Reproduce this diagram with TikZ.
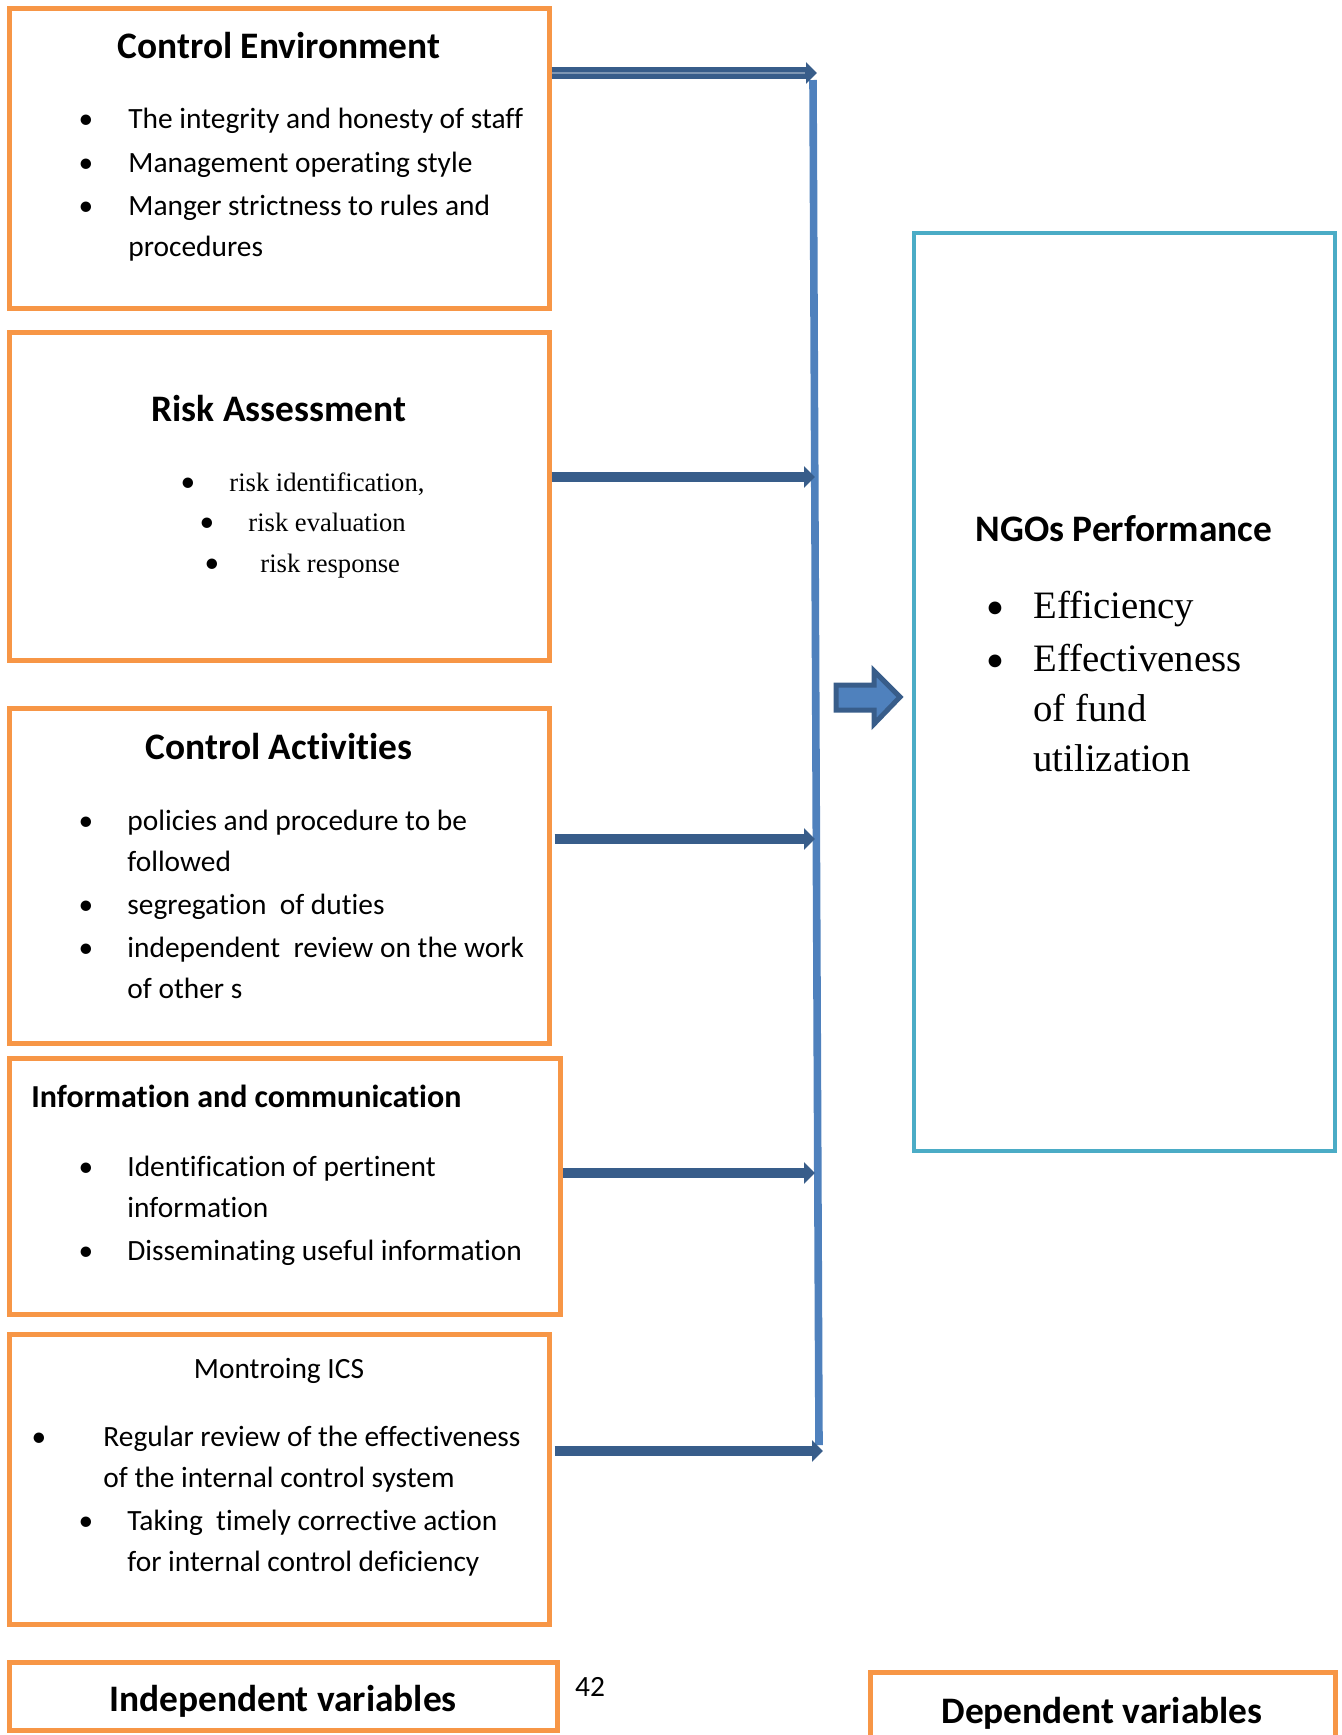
\documentclass[tikz,border=0pt]{standalone}
\usepackage{fontspec}
\setmainfont{Carlito}[RawFeature={-liga;-clig;-calt;-dlig}]
\newfontfamily\timesfont{Liberation Serif}
\usetikzlibrary{arrows.meta,positioning}
\definecolor{varorange}{HTML}{F79646}
\definecolor{perfcyan}{HTML}{4BACC6}
\definecolor{busblue}{HTML}{4F81BD}
\definecolor{feedblue}{HTML}{385D8A}
\tikzset{
  varbox/.style={draw=varorange, line width=2.5pt, inner sep=0pt},
  perfbox/.style={draw=perfcyan, line width=2.2pt, inner sep=0pt},
  bus/.style={draw=busblue, line width=3.8pt},
  feed/.style={draw=feedblue, line width=5pt, -{Triangle[length=5.5pt,width=10.5pt]}},
  boxtitle/.style={font=\fontsize{18.7}{22}\selectfont\bfseries, anchor=base, inner sep=0pt},
  item/.style={font=\fontsize{14.7}{18}\selectfont, anchor=base west, inner sep=0pt},
  dot/.style={font=\fontsize{14.7}{18}\selectfont, anchor=base, inner sep=0pt},
  riskitem/.style={font=\timesfont\fontsize{13.3}{16}\selectfont, anchor=base west, inner sep=0pt},
  perfitem/.style={font=\timesfont\fontsize{19.4}{23}\selectfont, anchor=base west, inner sep=0pt},
  perfdot/.style={font=\fontsize{18}{22}\selectfont, anchor=base, inner sep=0pt},
}

\begin{document}
\begin{tikzpicture}[x=0.5pt,y=-0.5pt]
  \useasboundingbox (0,0) rectangle (1342,1735);

  % independent variables
  \node[varbox, minimum width=270pt, minimum height=150pt] (ce) at (279,158) {};
  \node[varbox, minimum width=270pt, minimum height=164pt] (ra) at (279,496) {};
  \node[varbox, minimum width=270pt, minimum height=167.5pt] (ca) at (279,875.5) {};
  \node[varbox, minimum width=275.5pt, minimum height=128pt] (ic) at (284.5,1186) {};
  \node[varbox, minimum width=270pt, minimum height=145pt] (mo) at (279,1479) {};
  \node[varbox, minimum width=274pt, minimum height=34pt] (indep) at (283,1696) {};

  % dependent variable
  \node[perfbox, minimum width=210.5pt, minimum height=459pt] (ngo) at (1124.5,692) {};
  \node[varbox, minimum width=232.5pt, minimum height=45pt] (dep) at (1102.5,1717) {};

  % control environment
  \node[boxtitle] (cet) at (279,58) {Control Environment};
  \node[dot] (ced1) at (86,128) {•};
  \node[item] (cei1) at (128,128) {The integrity and honesty of staff};
  \node[dot] (ced2) at (86,172) {•};
  \node[item] (cei2) at (128,172) {Management operating style};
  \node[dot] (ced3) at (86,215) {•};
  \node[item] (cei3) at (128,215) {Manger strictness to rules and};
  \node[item] (cei4) at (128,256) {procedures};

  % risk assessment
  \node[boxtitle] (rat) at (279,421) {Risk Assessment};
  \node[dot] (rad1) at (188,491) {•};
  \node[riskitem] (rai1) at (229,491) {risk identification,};
  \node[dot] (rad2) at (207,531) {•};
  \node[riskitem] (rai2) at (248,531) {risk evaluation};
  \node[dot] (rad3) at (212,572) {•};
  \node[riskitem] (rai3) at (260,572) {risk response};

  % control activities
  \node[boxtitle] (cat) at (279,759) {Control Activities};
  \node[dot] (cad1) at (86,830) {•};
  \node[item] (cai1) at (127,830) {policies and procedure to be};
  \node[item] (cai2) at (127,871) {followed};
  \node[dot] (cad2) at (86,914) {•};
  \node[item] (cai3) at (127,914) {segregation\ \ of duties};
  \node[dot] (cad3) at (86,957) {•};
  \node[item] (cai4) at (127,957) {independent\ \ review on the work};
  \node[item] (cai5) at (127,998) {of other s};

  % information and communication
  \node[boxtitle, anchor=base west, font=\fontsize{16}{19}\selectfont\bfseries] (ict) at (31,1107) {Information and communication};
  \node[dot] (icd1) at (86,1176) {•};
  \node[item] (ici1) at (127,1176) {Identification of pertinent};
  \node[item] (ici2) at (127,1217) {information};
  \node[dot] (icd2) at (86,1260) {•};
  \node[item] (ici3) at (127,1260) {Disseminating useful information};

  % monitoring
  \node[item, anchor=base] (mot) at (279,1378) {Montroing ICS};
  \node[dot] (mod1) at (39,1446) {•};
  \node[item] (moi1) at (103,1446) {Regular review of the effectiveness};
  \node[item] (moi2) at (103,1487) {of the internal control system};
  \node[dot] (mod2) at (86,1530) {•};
  \node[item] (moi3) at (127,1530) {Taking\ \ timely corrective action};
  \node[item] (moi4) at (127,1571) {for internal control deficiency};

  % NGOs performance
  \node[boxtitle] (ngot) at (1124,541) {NGOs Performance};
  \node[perfdot] (ngod1) at (995,618) {•};
  \node[perfitem] (ngoi1) at (1033,618) {Efficiency};
  \node[perfdot] (ngod2) at (995,671) {•};
  \node[perfitem] (ngoi2) at (1033,671) {Effectiveness};
  \node[perfitem] (ngoi3) at (1033,721) {of fund};
  \node[perfitem] (ngoi4) at (1033,771) {utilization};

  \node[boxtitle] (indept) at (283,1711) {Independent variables};
  \node[boxtitle] (dept) at (1102,1723) {Dependent variables};
  \node[item, anchor=base] (page) at (590,1696) {42};

  % bus line and feeding arrows
  \coordinate (bustop) at (813,80);
  \coordinate (busbot) at (819,1445);
  \draw[bus] (bustop) -- (busbot);
  \coordinate (tip1) at (817,73);
  \coordinate (tip2) at (815,477);
  \coordinate (tip3) at (815,839);
  \coordinate (tip4) at (815,1173);
  \coordinate (tip5) at (823,1451);
  \draw[feed, line width=6pt] (ce.east |- tip1) -- (tip1);
  \draw[white!35!feedblue, line width=0.8pt] (ce.east |- tip1) -- ([xshift=-6pt]tip1);
  \draw[feed] (ra.east |- tip2) -- (tip2);
  \draw[feed] ([xshift=1.5pt]ca.east |- tip3) -- (tip3);
  \draw[feed] (ic.east |- tip4) -- (tip4);
  \draw[feed] ([xshift=1.5pt]mo.east |- tip5) -- (tip5);

  % block arrow to the dependent variable
  \filldraw[fill=busblue, draw=feedblue, line width=2.5pt, line join=miter]
    (836,685) -- (874,685) -- (874,671) -- (900,697) -- (874,724) -- (874,710) -- (836,710) -- cycle;
\end{tikzpicture}
\end{document}
